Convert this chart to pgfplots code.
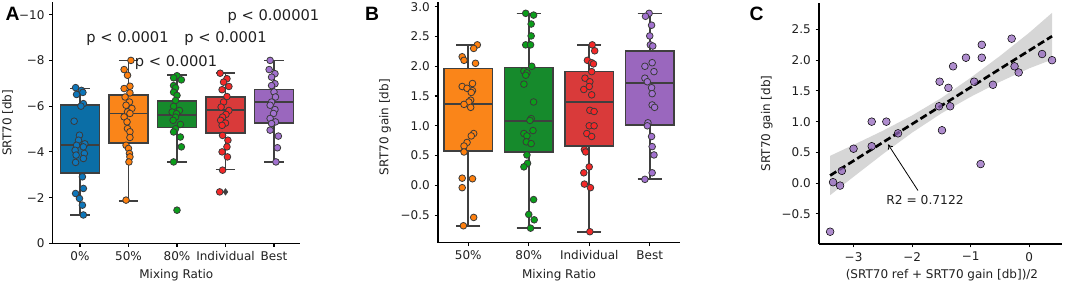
\documentclass[border=0pt]{standalone}
\usepackage{fontspec}
\setmainfont{DejaVu Sans}
\newfontfamily\arialfont{Liberation Sans}
\usepackage{pgfplots}
\pgfplotsset{compat=1.18}
\usepgfplotslibrary{statistics}
\usetikzlibrary{arrows.meta}

\definecolor{boxEdge}{HTML}{3F3F3F}
\definecolor{ptEdge}{HTML}{3A3A3A}
\definecolor{bBlue}{HTML}{0B6EA6}
\definecolor{pBlue}{HTML}{0E76BA}
\definecolor{bOrange}{HTML}{FA8519}
\definecolor{pOrange}{HTML}{FF800E}
\definecolor{bGreen}{HTML}{168A2C}
\definecolor{pGreen}{HTML}{0A9E1A}
\definecolor{bRed}{HTML}{D93A3A}
\definecolor{pRed}{HTML}{F42828}
\definecolor{bPurple}{HTML}{9A67BE}
\definecolor{pPurple}{HTML}{A272CF}
\definecolor{scPurple}{HTML}{9467BD}
\definecolor{txt}{HTML}{202020}

\pgfplotsset{
  myax/.style={
    scale only axis, anchor=south west, clip=false,
    axis x line*=bottom, axis y line*=left,
    axis line style={black, line width=0.8pt, -},
    tick align=outside, major tick length=2.6pt,
    tick style={black, line width=0.8pt},
    ticklabel style={font=\fontsize{9}{10}\selectfont, text=txt},
    label style={font=\fontsize{9}{10}\selectfont, text=txt},
  },
  bx/.style={draw=boxEdge, line width=1.2pt, fill=#1,
    boxplot/draw direction=y,
    boxplot/box extend=0.8, boxplot/whisker extend=0.4,
    boxplot/every median/.style={draw=boxEdge, line width=1.2pt}},
  pts/.style={only marks, mark=*, mark size=2.5pt,
    mark options={fill=#1, draw=ptEdge, line width=0.6pt}},
  flier/.style={only marks, mark=diamond*, mark size=2.4pt,
    mark options={fill=boxEdge, draw=boxEdge}},
}

\begin{document}
\begin{tikzpicture}
\useasboundingbox (0pt,0pt) rectangle (798.75pt,-213pt);

% ---------------- Panel A ----------------
\begin{axis}[myax, at={(39.5pt,-182.5pt)}, width=185.5pt, height=180.75pt,
  xmin=-0.563, xmax=4.536, ymin=-10.54, ymax=0, y dir=reverse,
  xtick={0,1,2,3,4}, xticklabels={0\%,50\%,80\%,Individual,Best},
  ytick={0,-2,-4,-6,-8,-10}, yticklabels={0,−2,−4,−6,−8,−10},
  xlabel={Mixing Ratio}, ylabel={SRT70 [db]},
  xlabel style={at={(axis description cs:0.5,-0.132)}, anchor=center},
  ylabel style={at={(axis description cs:-0.182,0.5)}, anchor=center}]
\addplot[bx=bBlue, boxplot prepared={draw position=0, lower whisker=-6.77, lower quartile=-6.04, median=-4.29, upper quartile=-3.08, upper whisker=-1.24}] coordinates {};
\addplot[bx=bOrange, boxplot prepared={draw position=1, lower whisker=-8.0, lower quartile=-6.48, median=-5.68, upper quartile=-4.39, upper whisker=-1.86}] coordinates {};
\addplot[bx=bGreen, boxplot prepared={draw position=2, lower whisker=-7.35, lower quartile=-6.23, median=-5.6, upper quartile=-5.06, upper whisker=-3.56}] coordinates {};
\addplot[bx=bRed, boxplot prepared={draw position=3, lower whisker=-7.45, lower quartile=-6.4, median=-5.82, upper quartile=-4.83, upper whisker=-3.23}] coordinates {};
\addplot[bx=bPurple, boxplot prepared={draw position=4, lower whisker=-8.0, lower quartile=-6.72, median=-6.18, upper quartile=-5.27, upper whisker=-3.56}] coordinates {};
\addplot[flier] coordinates {(2,-1.45) (3,-2.25)};
\addplot[pts=pBlue] coordinates {(-0.09,-6.81) (0.03,-6.69) (0.06,-6.6) (-0.07,-6.51) (0.07,-6.11) (0.02,-6.0) (-0.12,-5.34) (-0.01,-4.73) (-0.03,-4.51) (0.1,-4.35) (-0.07,-4.29) (0.07,-4.22) (-0.1,-4.07) (0.09,-3.93) (-0.08,-3.86) (0.07,-3.71) (-0.09,-3.54) (0.05,-2.91) (0.07,-2.4) (-0.09,-2.18) (-0.01,-1.96) (0.05,-1.67) (0.07,-1.24)};
\addplot[pts=pOrange] coordinates {(1.05,-8.0) (0.91,-7.6) (0.98,-7.35) (1.03,-6.87) (0.91,-6.77) (1.03,-6.58) (0.93,-6.4) (1.02,-6.18) (0.95,-6.04) (1.07,-5.9) (0.98,-5.75) (1.03,-5.68) (0.91,-5.53) (0.97,-5.31) (0.98,-5.02) (1.03,-4.88) (1.03,-4.63) (0.95,-4.29) (1.0,-4.15) (1.02,-3.93) (1.03,-3.78) (1.01,-3.56) (0.95,-1.89)};
\addplot[pts=pGreen] coordinates {(2.0,-7.33) (1.93,-7.24) (2.09,-7.15) (1.93,-6.9) (1.97,-6.8) (1.93,-6.61) (2.0,-6.47) (1.97,-6.25) (1.93,-5.99) (2.05,-5.81) (1.9,-5.74) (1.99,-5.67) (1.97,-5.52) (1.92,-5.38) (2.07,-5.2) (1.97,-5.01) (1.93,-4.87) (2.07,-4.65) (2.09,-4.22) (1.93,-3.56) (2.0,-1.45)};
\addplot[pts=pRed] coordinates {(2.89,-7.44) (3.03,-7.2) (2.96,-7.05) (3.07,-6.86) (2.93,-6.72) (3.03,-6.42) (2.96,-6.18) (2.91,-5.96) (3.07,-5.81) (3.01,-5.64) (2.94,-5.52) (2.9,-5.38) (3.0,-5.26) (2.93,-5.16) (2.94,-4.72) (3.05,-4.51) (3.03,-4.22) (2.93,-4.0) (3.04,-3.78) (2.94,-3.2) (2.88,-2.25)};
\addplot[pts=pPurple] coordinates {(3.92,-8.0) (3.9,-7.6) (4.02,-7.42) (3.95,-7.27) (4.02,-6.98) (3.95,-6.9) (4.0,-6.62) (4.03,-6.4) (3.95,-6.18) (3.92,-6.04) (4.02,-5.85) (3.99,-5.68) (3.92,-5.46) (4.03,-5.31) (3.95,-5.24) (3.92,-4.95) (4.09,-4.69) (4.07,-4.18) (4.04,-3.56)};
\node[font=\fontsize{11}{12}\selectfont, text=txt] at (axis cs:3.99,-9.93) {p < 0.00001};
\node[font=\fontsize{11}{12}\selectfont, text=txt] at (axis cs:0.98,-8.97) {p < 0.0001};
\node[font=\fontsize{11}{12}\selectfont, text=txt] at (axis cs:3.0,-8.97) {p < 0.0001};
\node[font=\fontsize{11}{12}\selectfont, text=txt] at (axis cs:1.98,-7.92) {p < 0.0001};
\end{axis}

% ---------------- Panel B ----------------
\begin{axis}[myax, at={(328.5pt,-182.0pt)}, width=181.5pt, height=180.5pt,
  xmin=-0.5, xmax=3.5, ymin=-0.964, ymax=3.08,
  xtick={0,1,2,3}, xticklabels={50\%,80\%,Individual,Best},
  ytick={-0.5,0,0.5,1,1.5,2,2.5,3}, yticklabels={−0.5,0.0,0.5,1.0,1.5,2.0,2.5,3.0},
  xlabel={Mixing Ratio}, ylabel={SRT70 gain [db]},
  xlabel style={at={(axis description cs:0.5,-0.134)}, anchor=center},
  ylabel style={at={(axis description cs:-0.219,0.48)}, anchor=center}]
\addplot[bx=bOrange, boxplot prepared={draw position=0, lower whisker=-0.684, lower quartile=0.576, median=1.37, upper quartile=1.964, upper whisker=2.356}] coordinates {};
\addplot[bx=bGreen, boxplot prepared={draw position=1, lower whisker=-0.72, lower quartile=0.564, median=1.085, upper quartile=1.98, upper whisker=2.89}] coordinates {};
\addplot[bx=bRed, boxplot prepared={draw position=2, lower whisker=-0.78, lower quartile=0.66, median=1.40, upper quartile=1.91, upper whisker=2.36}] coordinates {};
\addplot[bx=bPurple, boxplot prepared={draw position=3, lower whisker=0.105, lower quartile=1.01, median=1.72, upper quartile=2.26, upper whisker=2.89}] coordinates {};
\addplot[pts=pOrange] coordinates {(0.15,2.36) (0.09,2.30) (-0.10,2.16) (-0.07,2.10) (0.12,2.05) (0.07,1.71) (-0.10,1.66) (-0.02,1.63) (0.07,1.59) (0.05,1.56) (0.04,1.43) (0.01,1.40) (-0.07,1.36) (0.04,1.31) (0.09,0.87) (0.05,0.83) (-0.02,0.72) (-0.07,0.66) (-0.07,0.56) (-0.10,0.12) (0.07,0.11) (-0.10,-0.04) (0.09,-0.54) (-0.08,-0.68)};
\addplot[pts=pGreen] coordinates {(0.95,2.89) (1.08,2.86) (1.04,2.71) (1.04,2.51) (0.95,2.36) (1.03,2.36) (1.05,2.0) (0.92,1.92) (0.97,1.89) (0.95,1.85) (0.92,1.70) (1.08,1.40) (1.04,1.12) (1.02,1.09) (0.92,0.87) (1.07,0.92) (0.97,0.83) (0.96,0.73) (1.04,0.70) (0.97,0.51) (0.98,0.37) (0.92,0.31) (1.08,-0.24) (1.0,-0.49) (1.09,-0.58) (1.03,-0.72)};
\addplot[pts=pRed] coordinates {(2.05,2.36) (2.09,2.26) (1.97,2.10) (2.04,2.06) (2.07,2.04) (2.04,1.91) (1.93,1.80) (2.01,1.74) (2.0,1.66) (1.91,1.61) (2.04,1.52) (2.01,1.26) (2.08,1.24) (2.0,1.0) (2.08,1.0) (1.96,0.87) (2.04,0.82) (1.92,0.60) (1.94,0.56) (2.0,0.31) (1.91,0.21) (1.92,0.02) (2.02,-0.04) (2.01,-0.78)};
\addplot[pts=pPurple] coordinates {(2.99,2.89) (2.93,2.84) (3.03,2.69) (3.0,2.51) (3.01,2.36) (3.05,2.34) (3.04,2.06) (2.92,2.0) (3.07,1.91) (2.92,1.80) (2.96,1.74) (3.03,1.64) (3.04,1.54) (3.04,1.35) (3.08,1.31) (2.97,1.05) (2.96,1.0) (3.03,0.82) (3.04,0.65) (3.07,0.51) (3.04,0.21) (2.92,0.10)};
\end{axis}

% ---------------- Panel C ----------------
\begin{axis}[myax, at={(614.25pt,-183pt)}, width=182.25pt, height=180.75pt,
  xmin=-3.59, xmax=0.56, ymin=-0.99, ymax=2.93,
  xtick={-3,-2,-1,0}, xticklabels={−3,−2,−1,0},
  ytick={-0.5,0,0.5,1,1.5,2,2.5}, yticklabels={−0.5,0.0,0.5,1.0,1.5,2.0,2.5},
  xlabel={(SRT70 ref + SRT70 gain [db])/2}, ylabel={SRT70 gain [db]},
  xlabel style={at={(axis description cs:0.506,-0.129)}, anchor=center},
  ylabel style={at={(axis description cs:-0.215,0.5)}, anchor=center}]
\addplot[fill=black!16, draw=none] coordinates {(-3.4,0.444) (-3.0,0.623) (-2.5,0.852) (-2.0,1.101) (-1.5,1.385) (-1.0,1.714) (-0.5,2.068) (0.0,2.447) (0.39,2.77) (0.39,2.01) (0.0,1.867) (-0.5,1.648) (-1.0,1.404) (-1.5,1.135) (-2.0,0.821) (-2.5,0.472) (-3.0,0.103) (-3.4,-0.196)} -- cycle;
\addplot[only marks, mark=*, mark size=2.9pt, mark options={fill=scPurple, draw=none, fill opacity=0.75}] coordinates {(-3.40,-0.79) (-3.35,0.015) (-3.23,-0.04) (-3.20,0.20) (-3.00,0.56) (-2.69,1.0) (-2.69,0.60) (-2.44,1.0) (-2.24,0.81) (-1.54,1.25) (-1.53,1.65) (-1.49,0.86) (-1.38,1.55) (-1.35,1.25) (-1.30,1.90) (-1.08,2.04) (-0.94,1.65) (-0.81,2.25) (-0.81,2.04) (-0.83,0.31) (-0.62,1.60) (-0.30,2.35) (-0.25,1.90) (-0.18,1.80) (0.22,2.10) (0.39,2.0)};
\addplot[black, line width=2pt, dash pattern=on 5.5pt off 2.5pt] coordinates {(-3.4,0.124) (0.39,2.39)};
\draw[-{To[length=3.5pt,width=4.5pt]}, line width=0.6pt, black] (axis cs:-1.90,-0.12) -- (axis cs:-2.41,0.63);
\node[font=\fontsize{9.2}{10}\selectfont, text=txt] at (axis cs:-1.78,-0.27) {R2 = 0.7122};
\end{axis}

\node[font=\arialfont\bfseries\fontsize{14.5}{15}\selectfont] at (9.4pt,-10.5pt) {A};
\node[font=\arialfont\bfseries\fontsize{14.5}{15}\selectfont] at (279pt,-10.5pt) {B};
\node[font=\arialfont\bfseries\fontsize{14.5}{15}\selectfont] at (567.4pt,-10.1pt) {C};
\end{tikzpicture}
\end{document}
